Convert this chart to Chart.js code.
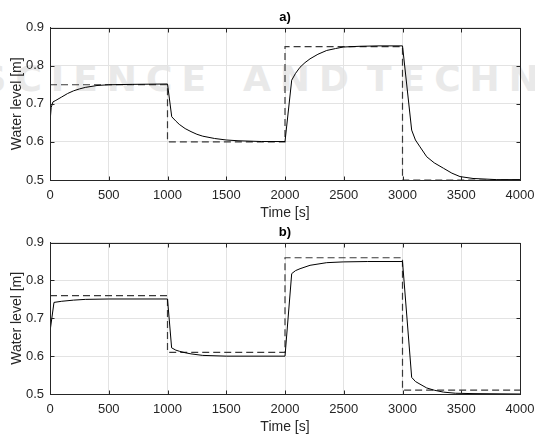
<html lang="en">
<head>
    <meta charset="UTF-8">
    <title>Water level</title>
    <script src="https://cdn.jsdelivr.net/npm/chart.js@4/dist/chart.umd.min.js"></script>
    <style>
        body { margin: 0; background: #fff; }
        #wrap { position: relative; width: 535px; height: 436px; overflow: hidden; }
        canvas { position: absolute; left: 0; display: block; }
        .mark {
            position: absolute; top: 58px; white-space: nowrap; line-height: 36px;
            font: bold 36px "DejaVu Sans", sans-serif; letter-spacing: 9px; color: #e9e9e9;
        }
    </style>
</head>
<body>
    <div id="wrap">
        <span class="mark" style="right:320px">SCIENCE</span>
        <span class="mark" style="left:243px">AND</span>
        <span class="mark" style="left:367px">TECHNOLOGY</span>
        <canvas id="chartA" width="535" height="222" style="top:0"></canvas>
        <canvas id="chartB" width="535" height="221" style="top:215px"></canvas>
    </div>
    <script>
        // a) measured level and set point
        const aTime = [0, 10, 25, 50, 100, 150, 200, 250, 300, 400, 500, 700, 1000,
            1036, 1070, 1100, 1150, 1200, 1250, 1300, 1400, 1500, 1600, 1800, 2000,
            2057, 2090, 2128, 2170, 2213, 2280, 2355, 2430, 2496, 2638, 2800, 3000,
            3078, 3110, 3149, 3206, 3270, 3348, 3420, 3489, 3600, 3800, 4000];
        const aLevel = [0.652, 0.690, 0.705, 0.709, 0.718, 0.727, 0.734, 0.739, 0.743, 0.748, 0.750, 0.751, 0.752,
            0.666, 0.655, 0.646, 0.635, 0.627, 0.620, 0.615, 0.609, 0.605, 0.603, 0.601, 0.601,
            0.762, 0.780, 0.796, 0.808, 0.818, 0.830, 0.840, 0.845, 0.849, 0.851, 0.852, 0.852,
            0.631, 0.605, 0.587, 0.561, 0.545, 0.531, 0.518, 0.509, 0.504, 0.501, 0.501];
        const aSetTime = [0, 1000, 1000, 2000, 2000, 3000, 3000, 4000];
        const aSetLevel = [0.75, 0.75, 0.60, 0.60, 0.85, 0.85, 0.50, 0.50];

        // b) measured level and set point
        const bTime = [0, 34, 100, 200, 300, 500, 1000,
            1035, 1070, 1100, 1150, 1200, 1300, 1500, 2000,
            2057, 2090, 2128, 2213, 2355, 2496, 2700, 3000,
            3078, 3110, 3149, 3206, 3270, 3348, 3450, 3600, 4000];
        const bLevel = [0.665, 0.742, 0.745, 0.748, 0.750, 0.751, 0.751,
            0.622, 0.616, 0.613, 0.609, 0.606, 0.602, 0.600, 0.600,
            0.818, 0.826, 0.831, 0.840, 0.847, 0.849, 0.850, 0.850,
            0.544, 0.533, 0.526, 0.516, 0.510, 0.505, 0.502, 0.501, 0.500];
        const bSetTime = [0, 1000, 1000, 2000, 2000, 3000, 3000, 4000];
        const bSetLevel = [0.76, 0.76, 0.61, 0.61, 0.86, 0.86, 0.51, 0.51];

        const yTicks = [0.5, 0.6, 0.7, 0.8, 0.9];
        const xTicks = [0, 500, 1000, 1500, 2000, 2500, 3000, 3500, 4000];

        const family = "'Liberation Sans', Arial, sans-serif";
        const tickFont = { family: family, size: 13 };
        const labelFont = { family: family, size: 14 };
        const ink = "#262626";

        // closed axes box with short inward ticks, matlab style
        const boxPlugin = {
            id: "box",
            afterDraw(chart) {
                const a = chart.chartArea;
                const ctx = chart.ctx;
                const l = Math.round(a.left) + 0.5, r = Math.round(a.right) + 0.5;
                const t = Math.round(a.top) + 0.5, b = Math.round(a.bottom) + 0.5;
                ctx.save();
                ctx.strokeStyle = ink;
                ctx.lineWidth = 1;
                ctx.beginPath();
                xTicks.forEach(v => {
                    const x = Math.round(chart.scales.x.getPixelForValue(v)) + 0.5;
                    ctx.moveTo(x, b); ctx.lineTo(x, b - 4);
                    ctx.moveTo(x, t); ctx.lineTo(x, t + 4);
                });
                yTicks.forEach(v => {
                    const y = Math.round(chart.scales.y.getPixelForValue(v)) + 0.5;
                    ctx.moveTo(l, y); ctx.lineTo(l + 4, y);
                    ctx.moveTo(r, y); ctx.lineTo(r - 4, y);
                });
                ctx.stroke();
                ctx.strokeRect(l, t, r - l, b - t);
                ctx.restore();
            }
        };

        function pairs(xs, ys) {
            return xs.map((x, i) => ({ x: x, y: ys[i] }));
        }

        function makeChart(id, title, time, level, setTime, setLevel) {
            return new Chart(id, {
                type: "line",
                data: {
                    datasets: [{
                        data: pairs(time, level),
                        borderColor: "#000",
                        borderWidth: 1,
                        pointRadius: 0,
                        tension: 0
                    }, {
                        data: pairs(setTime, setLevel),
                        borderColor: "#3a3a3a",
                        borderWidth: 1.2,
                        borderDash: [7, 4],
                        pointRadius: 0,
                        tension: 0
                    }]
                },
                options: {
                    responsive: false,
                    animation: false,
                    devicePixelRatio: 1,
                    layout: { padding: { right: 15 } },
                    plugins: {
                        legend: { display: false },
                        tooltip: { enabled: false },
                        title: {
                            display: true,
                            text: title,
                            fullSize: false,
                            color: "#000",
                            font: { family: family, size: 13, weight: "bold" },
                            padding: { top: 10, bottom: 2 }
                        }
                    },
                    scales: {
                        x: {
                            type: "linear",
                            min: 0,
                            max: 4000,
                            afterBuildTicks(s) { s.ticks = xTicks.map(v => ({ value: v })); },
                            afterFit(s) { s.height = 42; s.paddingLeft = 0; s.paddingRight = 0; },
                            grid: { color: "#e3e3e3", drawTicks: false },
                            border: { color: ink },
                            ticks: { color: ink, font: tickFont, padding: 8, maxRotation: 0, callback: v => String(v) },
                            title: { display: true, text: "Time [s]", color: ink, font: labelFont, padding: { top: 0, bottom: 0 } }
                        },
                        y: {
                            min: 0.5,
                            max: 0.9,
                            afterBuildTicks(s) { s.ticks = yTicks.map(v => ({ value: v })); },
                            afterFit(s) { s.width = 50; },
                            grid: { color: "#e3e3e3", drawTicks: false },
                            border: { color: ink },
                            ticks: { color: ink, font: tickFont, padding: 6, callback: v => v.toFixed(1) },
                            title: { display: true, text: "Water level [m]", color: ink, font: labelFont, padding: { top: 9, bottom: 0 } }
                        }
                    }
                },
                plugins: [boxPlugin]
            });
        }

        makeChart("chartA", "a)", aTime, aLevel, aSetTime, aSetLevel);
        makeChart("chartB", "b)", bTime, bLevel, bSetTime, bSetLevel);
    </script>
</body>
</html>
